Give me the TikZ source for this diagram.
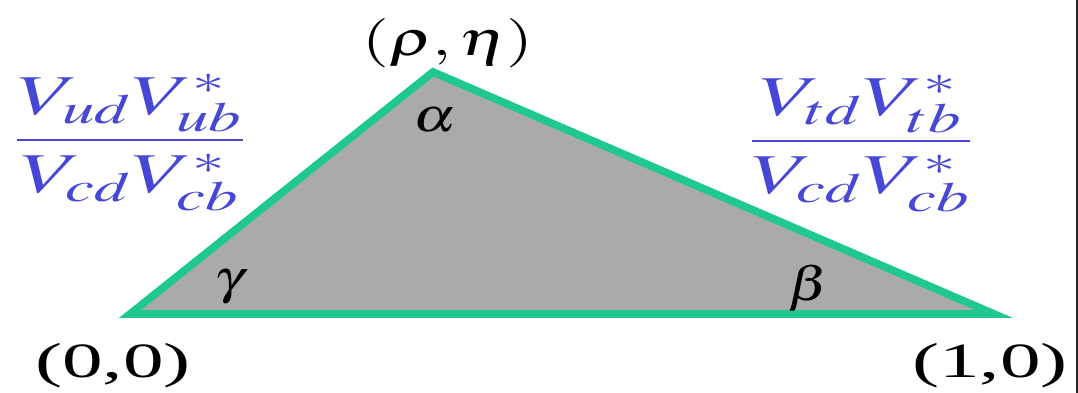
\documentclass[tikz,border=0pt]{standalone}
\usepackage{mathptmx}
\usepackage{fontspec}
\setmainfont{Liberation Serif}
\definecolor{edgegreen}{RGB}{32,200,145}
\definecolor{areagray}{RGB}{170,170,170}
\definecolor{ckmblue}{RGB}{70,70,215}
\newcommand{\wide}[2]{\scalebox{#1}[1]{#2}}
\begin{document}
\begin{tikzpicture}[x=0.025cm,y=-0.025cm]
  \tikzstyle{vertex}=[inner sep=0pt, font=\fontsize{35}{40}\selectfont]
  \tikzstyle{angle}=[inner sep=0pt, font=\fontsize{34}{38}\selectfont]
  \tikzstyle{ratio}=[inner sep=0pt, text=ckmblue, font=\fontsize{40}{46}\selectfont]

  \useasboundingbox (0,0) rectangle (1078,393);
  \draw[line width=1.5pt, black!85] (1077,0) -- (1077,393);

  \coordinate (origin) at (130,314);
  \coordinate (apex) at (433,72);
  \coordinate (unit) at (994,314);

  \filldraw[fill=areagray, draw=edgegreen, line width=5.5pt, line join=miter]
    (origin) -- (apex) -- (unit) -- cycle;

  \node[vertex] (rhoeta) at (448,43) {\wide{1.4}{$(\rho,\eta)$}};
  \node[vertex] (zero) at (113,366) {\wide{1.65}{(0,0)}};
  \node[vertex] (one) at (990,366) {\wide{1.65}{(1,0)}};

  \node[angle] (alpha) at (435,120) {\wide{1.25}{$\alpha$}};
  \node[angle] (gamma) at (229,287) {\wide{1.25}{$\gamma$}};
  \node[angle] (beta) at (809,288) {\wide{1.25}{$\beta$}};

  \node[ratio] (leftratio) at (130,143) {\wide{1.56}{$\displaystyle\frac{V_{ud}V_{ub}^*}{V_{cd}V_{cb}^*}$}};
  \node[ratio] (rightratio) at (861,144) {\wide{1.56}{$\displaystyle\frac{V_{td}V_{tb}^*}{V_{cd}V_{cb}^*}$}};
\end{tikzpicture}
\end{document}
